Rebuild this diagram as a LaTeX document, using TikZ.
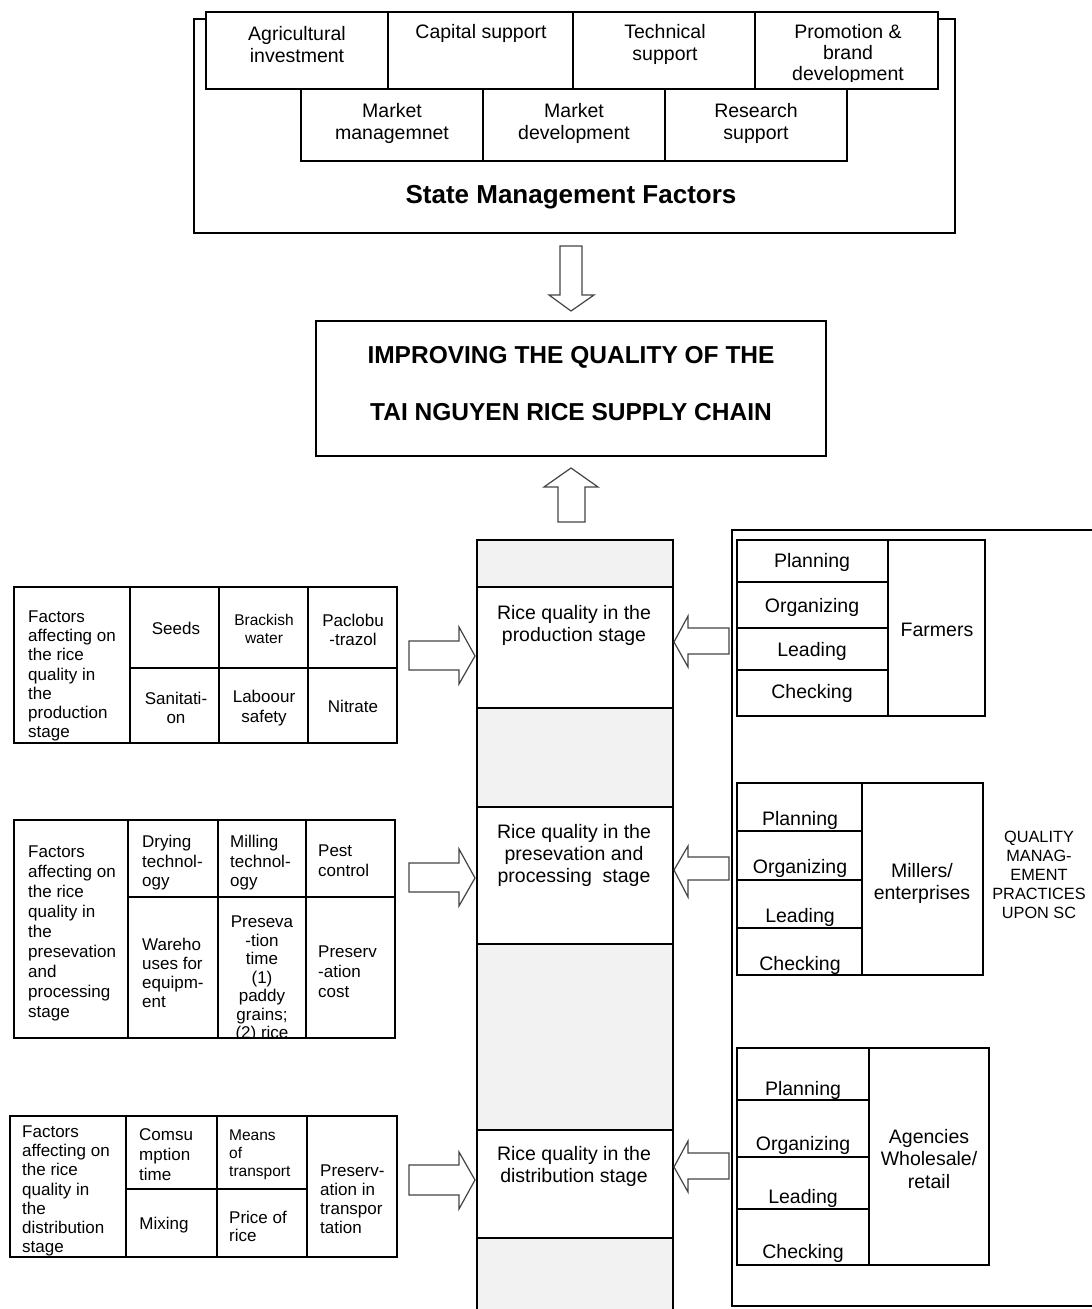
\documentclass[tikz,border=0pt]{standalone}
\usepackage{fontspec}
\setmainfont{Liberation Sans}
\definecolor{colgray}{HTML}{F2F2F2}
\definecolor{arrline}{HTML}{444444}
\newcommand\mkcell[6][white]{\node[cell, fill=#1, minimum width={(#5-#3)*1pt}, minimum height={(#6-#4)*1pt}] (#2) at (#3,#4) {};}
\begin{document}
\begin{tikzpicture}[x=1pt,y=-1pt,
  cell/.style={draw=black, line width=1.2pt, inner sep=0pt, outer sep=0pt, anchor=north west},
  t/.style={inner sep=0pt, align=center, font=\fontsize{19.5}{22}\selectfont},
  f/.style={inner sep=0pt, align=left, anchor=west, font=\fontsize{17}{19.3}\selectfont},
  fc/.style={inner sep=0pt, align=center, font=\fontsize{17}{19.3}\selectfont},
  blk/.style={draw=arrline, line width=1.2pt, fill=white, line join=miter},
]
\useasboundingbox (0,0) rectangle (1092,1309);
\fill[white] (0,0) rectangle (1092,1309);

% ---------- State management factors ----------
\mkcell{smf}{194}{19}{955}{233}
\mkcell{ag}{206}{12}{388}{89}
\mkcell{cap}{388}{12}{573}{89}
\mkcell{tec}{573}{12}{755}{89}
\mkcell{pro}{755}{12}{938}{89}
\mkcell{mm}{301}{89}{483}{161}
\mkcell{md}{483}{89}{665}{161}
\mkcell{rs}{665}{89}{847}{161}
\node[t] (agT) at (297,44.5) {Agricultural\\investment};
\node[t] (capT) at (481,33) {Capital support};
\node[t] (tecT) at (665,44.5) {Technical\\support};
\begin{scope}
\clip (755,12) rectangle (938,81);
\node[t, font=\fontsize{19.5}{21}\selectfont] (proT) at (848,54) {Promotion \&\\brand\\development};
\end{scope}
\node[t] (mmT) at (392,123) {Market\\managemnet};
\node[t] (mdT) at (574,123) {Market\\development};
\node[t] (rsT) at (756,123) {Research\\support};
\node[inner sep=0pt, font=\bfseries\fontsize{26}{30}\selectfont] (smfT) at (571,197) {State Management Factors};

% down arrow
\draw[blk] (560,246) -- (582,246) -- (582,295) -- (594,295) -- (571,311) -- (549,295) -- (560,295) -- cycle;

% ---------- goal ----------
\mkcell{goal}{316}{321}{826}{456}
\node[inner sep=0pt, font=\bfseries\fontsize{24.5}{28}\selectfont] (g1) at (571,357) {IMPROVING THE QUALITY OF THE};
\node[inner sep=0pt, font=\bfseries\fontsize{24.5}{28}\selectfont] (g2) at (571,412) {TAI NGUYEN RICE SUPPLY CHAIN};

% up arrow
\draw[blk] (571,468) -- (598,487) -- (585,487) -- (585,522) -- (558,522) -- (558,487) -- (544,487) -- cycle;

% ---------- central column ----------
\mkcell[colgray]{c1}{477}{540}{673}{587}
\mkcell{cp}{477}{587}{673}{708}
\mkcell[colgray]{c2}{477}{708}{673}{807}
\mkcell{cs}{477}{807}{673}{944}
\mkcell[colgray]{c3}{477}{944}{673}{1130}
\mkcell{cd}{477}{1130}{673}{1238}
\mkcell[colgray]{c4}{477}{1238}{673}{1314}
\node[t] (cpT) at (574,625) {Rice quality in the\\production stage};
\node[t] (csT) at (574,855.5) {Rice quality in the\\presevation and\\processing~ stage};
\node[t] (cdT) at (574,1166) {Rice quality in the\\distribution stage};

% left arrows (pointing right)
\draw[blk] (409,641) -- (459,641) -- (459,627) -- (475,656) -- (459,684) -- (459,670) -- (409,670) -- cycle;
\draw[blk] (409,863) -- (459,863) -- (459,849) -- (475,878) -- (459,906) -- (459,892) -- (409,892) -- cycle;
\draw[blk] (409,1165) -- (459,1165) -- (459,1152) -- (475,1180) -- (459,1209) -- (459,1195) -- (409,1195) -- cycle;

% right arrows (pointing left)
\draw[blk] (674,642) -- (688,616) -- (688,628) -- (729,628) -- (729,654) -- (688,654) -- (688,667) -- cycle;
\draw[blk] (674,870) -- (688,846) -- (688,857) -- (729,857) -- (729,880) -- (688,880) -- (688,897) -- cycle;
\draw[blk] (674,1167) -- (688,1141) -- (688,1153) -- (729,1153) -- (729,1179) -- (688,1179) -- (688,1192) -- cycle;

% ---------- quality management practices ----------
\mkcell{qm}{732}{530}{1100}{1306}
% farmers
\mkcell{fP}{737}{540}{888}{582}
\mkcell{fO}{737}{582}{888}{628}
\mkcell{fL}{737}{628}{888}{670}
\mkcell{fC}{737}{670}{888}{716}
\mkcell{fF}{888}{540}{985}{716}
\node[t] (fPT) at (812,562) {Planning};
\node[t] (fOT) at (812,607) {Organizing};
\node[t] (fLT) at (812,651) {Leading};
\node[t] (fCT) at (812,693) {Checking};
\node[t] (fFT) at (937,630) {Farmers};
% millers
\mkcell{mP}{737}{783}{862}{831}
\mkcell{mO}{737}{831}{862}{880}
\mkcell{mL}{737}{880}{862}{928}
\mkcell{mC}{737}{928}{862}{975}
\mkcell{mM}{862}{783}{983}{975}
\node[t] (mPT) at (800,820) {Planning};
\node[t] (mOT) at (800,868) {Organizing};
\node[t] (mLT) at (800,917) {Leading};
\node[t] (mCT) at (800,965) {Checking};
\node[t] (mMT) at (922,883) {Millers/\\enterprises};
\node[t, font=\fontsize{16.3}{19}\selectfont] (qmT) at (1039,875) {QUALITY\\MANAG-\\EMENT\\PRACTICES\\UPON SC};
% agencies
\mkcell{aP}{737}{1048}{869}{1100}
\mkcell{aO}{737}{1100}{869}{1157}
\mkcell{aL}{737}{1157}{869}{1209}
\mkcell{aC}{737}{1209}{869}{1265}
\mkcell{aA}{869}{1048}{989}{1265}
\node[t] (aPT) at (803,1090) {Planning};
\node[t] (aOT) at (803,1145) {Organizing};
\node[t] (aLT) at (803,1198) {Leading};
\node[t] (aCT) at (803,1253) {Checking};
\node[t, font=\fontsize{19.5}{22.5}\selectfont] (aAT) at (929,1159) {Agencies\\Wholesale/\\retail};

% ---------- production factors ----------
\mkcell{p0}{14}{587}{130}{743}
\mkcell{p1}{130}{587}{219}{668}
\mkcell{p2}{219}{587}{308}{668}
\mkcell{p3}{308}{587}{397}{668}
\mkcell{p4}{130}{668}{219}{743}
\mkcell{p5}{219}{668}{308}{743}
\mkcell{p6}{308}{668}{397}{743}
\begin{scope}
\clip (14,587) rectangle (130,743);
\node[f] (p0T) at (28,676) {Factors\\affecting on\\the rice\\quality in\\the\\production\\stage};
\end{scope}
\node[fc] (p1T) at (176,628) {Seeds};
\node[fc, font=\fontsize{15.5}{18}\selectfont] (p2T) at (264,629) {Brackish\\water};
\node[fc] (p3T) at (353,630) {Paclobu\\-trazol};
\node[fc] (p4T) at (176,708) {Sanitati-\\on};
\node[fc] (p5T) at (264,708) {Laboour\\safety};
\node[fc] (p6T) at (353,706) {Nitrate};

% ---------- preservation factors ----------
\mkcell{s0}{14}{820}{128}{1038}
\mkcell{s1}{128}{820}{218}{897}
\mkcell{s2}{218}{820}{306}{897}
\mkcell{s3}{306}{820}{395}{897}
\mkcell{s4}{128}{897}{218}{1038}
\mkcell{s5}{218}{897}{306}{1038}
\mkcell{s6}{306}{897}{395}{1038}
\node[f, font=\fontsize{17}{20}\selectfont] (s0T) at (28,933.5) {Factors\\affecting on\\the rice\\quality in\\the\\presevation\\and\\processing\\stage};
\node[f, font=\fontsize{17}{19.5}\selectfont] (s1T) at (142,863) {Drying\\technol-\\ogy};
\node[f, font=\fontsize{17}{19.5}\selectfont] (s2T) at (230,863) {Milling\\technol-\\ogy};
\node[f, font=\fontsize{17}{20}\selectfont] (s3T) at (318,861) {Pest\\control};
\node[f, font=\fontsize{17}{19}\selectfont] (s4T) at (142,973) {Wareho\\uses for\\equipm-\\ent};
\begin{scope}
\clip (218,897) rectangle (306,1038);
\node[fc, font=\fontsize{17}{18.5}\selectfont] (s5T) at (262,979) {Preseva\\-tion\\time\\(1)\\paddy\\grains;\\(2) rice};
\end{scope}
\node[f, font=\fontsize{17}{20}\selectfont] (s6T) at (318,971.5) {Preserv\\-ation\\cost};

% ---------- distribution factors ----------
\mkcell{d0}{10}{1116}{126}{1257}
\mkcell{d1}{126}{1116}{217}{1189}
\mkcell{d2}{217}{1116}{307}{1189}
\mkcell{d3}{307}{1116}{397}{1257}
\mkcell{d4}{126}{1189}{217}{1257}
\mkcell{d5}{217}{1189}{307}{1257}
\begin{scope}
\clip (10,1116) rectangle (126,1257);
\node[f, font=\fontsize{17}{19.2}\selectfont] (d0T) at (22,1191) {Factors\\affecting on\\the rice\\quality in\\the\\distribution\\stage};
\end{scope}
\node[f, font=\fontsize{17}{20}\selectfont] (d1T) at (139,1154.5) {Comsu\\mption\\time};
\node[f, font=\fontsize{15.5}{18}\selectfont] (d2T) at (229,1155) {Means\\of\\transport};
\node[f, font=\fontsize{17}{19}\selectfont] (d3T) at (320,1199) {Preserv-\\ation in\\transpor\\tation};
\node[fc] (d4T) at (164,1225) {Mixing};
\node[f, font=\fontsize{17}{18}\selectfont] (d5T) at (229,1226.5) {Price of\\rice};
\end{tikzpicture}
\end{document}
